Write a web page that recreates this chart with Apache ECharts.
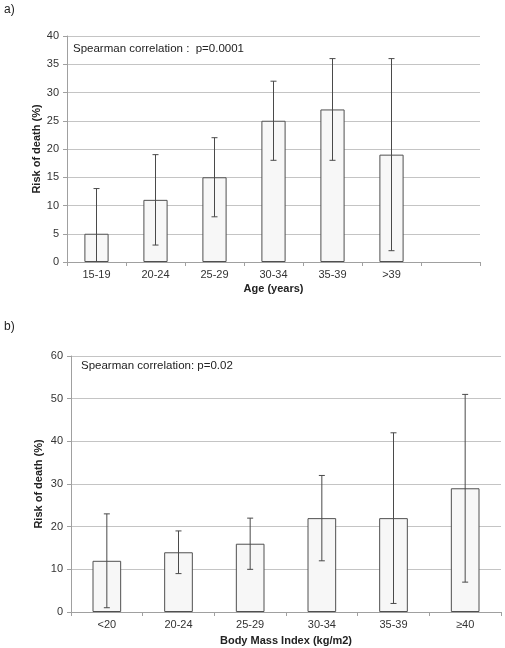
<!DOCTYPE html>
<html><head><meta charset="utf-8">
<script src="https://cdn.jsdelivr.net/npm/echarts@6/dist/echarts.min.js"></script>
<style>html,body{margin:0;padding:0;background:#fff}#c{width:505px;height:648px}</style>
</head><body><div id="c"></div>
<script>
// Chart a) — age groups
var ageCats = ['15-19', '20-24', '25-29', '30-34', '35-39', '>39', ''];
var ageRisk = [5, 11, 15, 25, 27, 19, null];
var ageLow = [0, 3, 8, 18, 18, 2, null];
var ageHigh = [13, 19, 22, 32, 36, 36, null];
var ageTicks = [0, 5, 10, 15, 20, 25, 30, 35, 40];

// Chart b) — body mass index
var bmiCats = ['<20', '20-24', '25-29', '30-34', '35-39', '\u226540'];
var bmiRisk = [12, 14, 16, 22, 22, 29];
var bmiLow = [1, 9, 10, 12, 2, 7];
var bmiHigh = [23, 19, 22, 32, 42, 51];
var bmiTicks = [0, 10, 20, 30, 40, 50, 60];

var FONT = 'Liberation Sans, Arial, sans-serif';

function errData(lo, hi) {
  var out = [];
  for (var i = 0; i < lo.length; i++) {
    if (lo[i] == null) continue;
    out.push([i, lo[i], hi[i], i === 0 && lo[i] === 0 ? 0 : 1]);
  }
  return out;
}

function errRender(params, api) {
  var x = api.value(0);
  var lo = api.coord([x, api.value(1)]);
  var hi = api.coord([x, api.value(2)]);
  var showLow = api.value(3);
  var w = 3;
  var style = { stroke: '#4a4a4a', lineWidth: 1, fill: null };
  var children = [
    { type: 'line', shape: { x1: hi[0], y1: hi[1], x2: lo[0], y2: lo[1] }, style: style },
    { type: 'line', shape: { x1: hi[0] - w, y1: hi[1], x2: hi[0] + w, y2: hi[1] }, style: style }
  ];
  if (showLow) children.push({ type: 'line', shape: { x1: lo[0] - w, y1: lo[1], x2: lo[0] + w, y2: lo[1] }, style: style });
  return { type: 'group', children: children };
}

function yAxisCfg(gi, ticks, gap) {
  return {
    type: 'value', gridIndex: gi,
    min: ticks[0], max: ticks[ticks.length - 1], interval: ticks[1] - ticks[0],
    name: 'Risk of death (%)', nameLocation: 'middle', nameGap: gap, nameMoveOverlap: false,
    nameTextStyle: { fontFamily: FONT, fontSize: 11, fontWeight: 'bold', color: '#222' },
    axisLine: { show: true, lineStyle: { color: '#a0a0a0' } },
    axisTick: { show: true, length: 4, lineStyle: { color: '#a0a0a0' } },
    axisLabel: { fontFamily: FONT, fontSize: 11, color: '#333', margin: 8 },
    splitLine: { show: true, lineStyle: { color: '#c4c4c4' } }
  };
}

function xAxisCfg(gi, cats, name, gap) {
  return {
    type: 'category', gridIndex: gi, data: cats,
    name: name, nameLocation: 'middle', nameGap: gap, nameMoveOverlap: false,
    nameTextStyle: { fontFamily: FONT, fontSize: 11, fontWeight: 'bold', color: '#222' },
    axisLine: { show: true, lineStyle: { color: '#a0a0a0' } },
    axisTick: { show: true, length: 4, interval: 0, lineStyle: { color: '#a0a0a0' } },
    axisLabel: { fontFamily: FONT, fontSize: 11, color: '#333', margin: 7, interval: 0 }
  };
}

var chart = echarts.init(document.getElementById('c'), null, { renderer: 'canvas' });
chart.setOption({
  animation: false,
  backgroundColor: '#fff',
  grid: [
    { left: 67, right: 25, top: 36, height: 226, outerBoundsMode: 'none', containLabel: false },
    { left: 71, right: 4, top: 356, height: 256, outerBoundsMode: 'none', containLabel: false }
  ],
  xAxis: [xAxisCfg(0, ageCats, 'Age (years)', 21), xAxisCfg(1, bmiCats, 'Body Mass Index (kg/m2)', 23)],
  yAxis: [yAxisCfg(0, ageTicks, 25), yAxisCfg(1, bmiTicks, 27)],
  graphic: [
    { type: 'text', left: 4, top: 4, style: { text: 'a)', font: '12px ' + FONT, fill: '#222' } },
    { type: 'text', left: 4, top: 321, style: { text: 'b)', font: '12px ' + FONT, fill: '#222' } },
    { type: 'text', left: 73, top: 43, style: { text: 'Spearman correlation :  p=0.0001', font: '11.5px ' + FONT, fill: '#222' } },
    { type: 'text', left: 81, top: 360, style: { text: 'Spearman correlation: p=0.02', font: '11.5px ' + FONT, fill: '#222' } }
  ],
  series: [
    { type: 'bar', xAxisIndex: 0, yAxisIndex: 0, data: ageRisk, barWidth: '41%',
      itemStyle: { color: '#f7f7f7', borderColor: '#505050', borderWidth: 1 }, silent: true },
    { type: 'custom', xAxisIndex: 0, yAxisIndex: 0, data: errData(ageLow, ageHigh),
      renderItem: errRender, encode: { x: 0, y: [1, 2] }, z: 5, silent: true },
    { type: 'bar', xAxisIndex: 1, yAxisIndex: 1, data: bmiRisk, barWidth: '40%',
      itemStyle: { color: '#f7f7f7', borderColor: '#505050', borderWidth: 1 }, silent: true },
    { type: 'custom', xAxisIndex: 1, yAxisIndex: 1, data: errData(bmiLow, bmiHigh),
      renderItem: errRender, encode: { x: 0, y: [1, 2] }, z: 5, silent: true }
  ]
});
</script></body></html>
